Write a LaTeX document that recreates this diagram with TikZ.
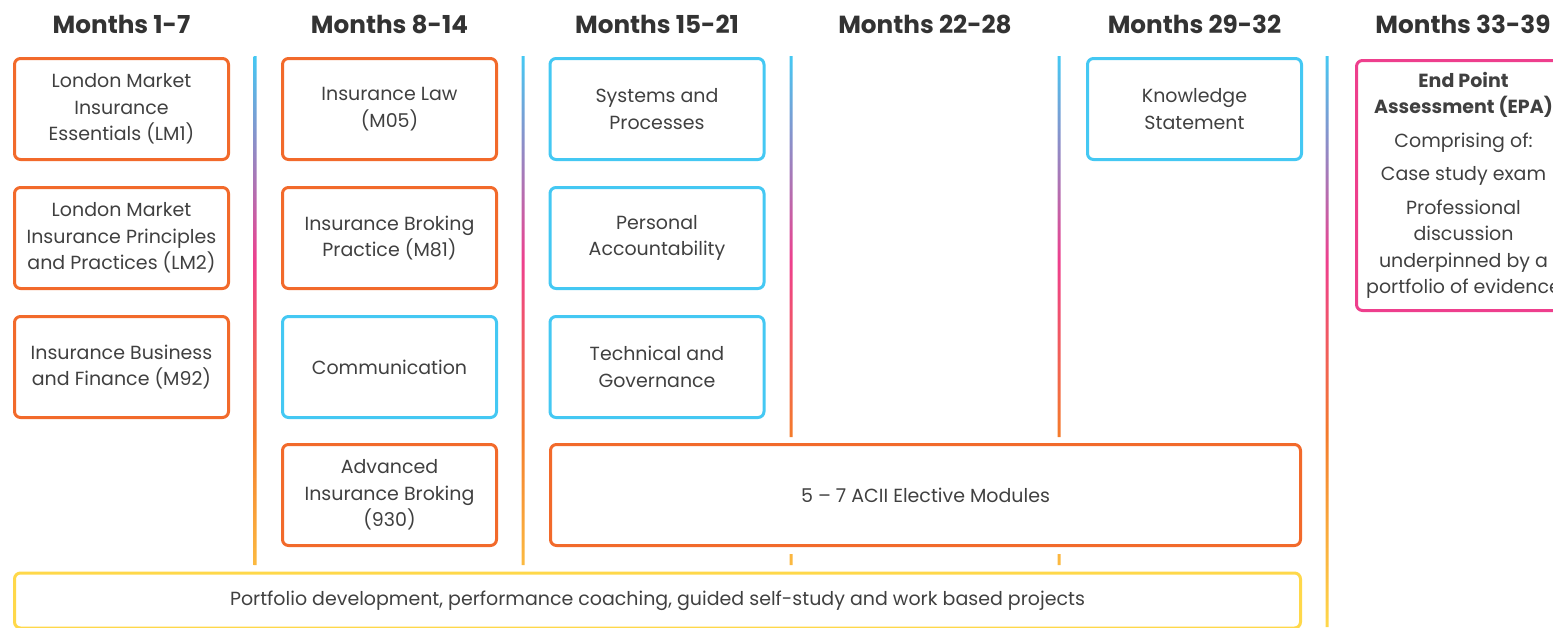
\documentclass[tikz,border=0pt]{standalone}
\usepackage{fontspec}
\setmainfont{Poppins}
\usetikzlibrary{positioning}
\usepackage{xcolor}

\definecolor{modorange}{HTML}{F26A2B}
\definecolor{modblue}{HTML}{44C8F3}
\definecolor{modpink}{HTML}{EE3F8D}
\definecolor{modyellow}{HTML}{FFD84A}
\definecolor{railorange}{HTML}{F47A2C}
\definecolor{textgrey}{HTML}{404040}
\definecolor{headgrey}{HTML}{333333}

% vertical rails: yellow at the bottom, blue at the top
\pgfdeclareverticalshading{railshade}{100bp}{color(0bp)=(modyellow); color(25bp)=(modyellow); color(42bp)=(railorange); color(57bp)=(modpink); color(75bp)=(modblue); color(100bp)=(modblue)}

\begin{document}
\begin{tikzpicture}[x=1pt, y=-1pt,
    box/.style={rectangle, draw, line width=3pt, rounded corners=6pt, minimum width=214pt, minimum height=101pt, inner sep=0pt, align=center, text=textgrey, font=\fontsize{19}{26.5}\selectfont},
    core/.style={box, draw=modorange},
    skill/.style={box, draw=modblue},
    head/.style={anchor=base, text=headgrey, font=\fontsize{24.7}{28}\selectfont\bfseries}
]
\useasboundingbox (0,0) rectangle (1553,627);
\clip (0,0) rectangle (1553,627);

% Headers
\foreach \m/\x [count=\i] in {1-7/121.5, 8-14/389.5, 15-21/657, 22-28/925, 29-32/1194.5, 33-39/1463} {
    \node[head] (head\i) at (\x,33) {Months \m};
}

% Rails
\shade[shading=railshade]
    foreach \x in {255,523} {(\x-1.5,56) rectangle (\x+1.5,565)}
    foreach \x in {791,1059} {(\x-1.5,56) rectangle (\x+1.5,437) (\x-1.5,554) rectangle (\x+1.5,565)}
    (1325.5,56) rectangle (1328.5,627);

% Months 1-7
\node[core] (ess) at (121.5,109) {London Market\\Insurance\\Essentials (LM1)};
\node[core] (prin) at (121.5,238) {London Market\\Insurance Principles\\and Practices (LM2)};
\node[core] (fin) at (121.5,367) {Insurance Business\\and Finance (M92)};

% Months 8-14
\node[core] (law) at (389.5,109) {Insurance Law\\(M05)};
\node[core] (brok) at (389.5,238) {Insurance Broking\\Practice (M81)};
\node[skill] (comm) at (389.5,367) {Communication};
\node[core] (adv) at (389.5,495) {Advanced\\Insurance Broking\\(930)};

% Months 15-21
\node[skill] (sys) at (657,109) {Systems and\\Processes};
\node[skill] (acct) at (657,238) {Personal\\Accountability};
\node[skill] (tech) at (657,367) {Technical and\\Governance};

% Months 29-32
\node[skill] (know) at (1194.5,109) {Knowledge\\Statement};

% Electives and portfolio
\node[core, minimum width=750pt] (elect) at (925.5,495) {5 – 7 ACII Elective Modules};
\node[box, draw=modyellow, minimum width=1286pt, minimum height=55pt] (port) at (657.5,600.5) {Portfolio development, performance coaching, guided self-study and work based projects};

% EPA
\node[box, draw=modpink, minimum height=250pt] (epa) at (1463.5,185.5) {\textbf{End Point}\\\textbf{Assessment (EPA)}\\[7pt]Comprising of:\\[7pt]Case study exam\\[7pt]Professional\\discussion\\underpinned by a\\portfolio of evidence};

\end{tikzpicture}
\end{document}
